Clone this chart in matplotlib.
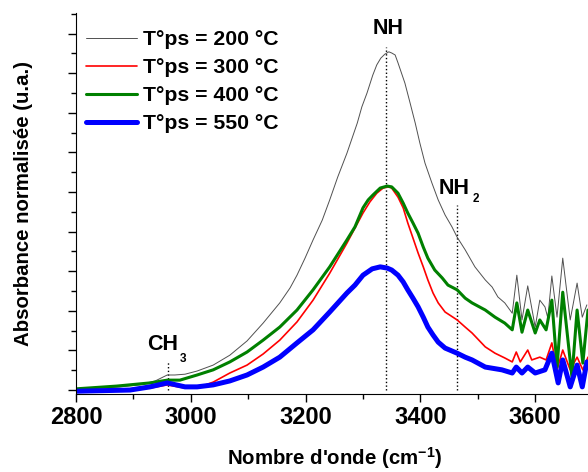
import matplotlib
matplotlib.use("Agg")
import matplotlib.pyplot as plt
from matplotlib.ticker import MultipleLocator

plt.rcParams['font.family'] = ['Liberation Sans', 'DejaVu Sans']
plt.rcParams['font.weight'] = 'bold'
plt.rcParams['mathtext.fontset'] = 'custom'
plt.rcParams['mathtext.bf'] = 'Liberation Sans:bold'
plt.rcParams['mathtext.rm'] = 'Liberation Sans:bold'

labels = ["T°ps = 200 °C", "T°ps = 300 °C", "T°ps = 400 °C", "T°ps = 550 °C"]
colors = ["#505050", "#ff0000", "#008000", "#0000ff"]
widths = [0.7, 1.2, 2.2, 3.6]

wn_200 = [2800, 2842, 2877, 2911, 2938, 2952, 2959, 2972, 2990, 3011,
          3039, 3068, 3098, 3126, 3155, 3173, 3185, 3199, 3213, 3229,
          3242, 3256, 3272, 3281, 3290, 3298, 3307, 3317, 3324, 3331,
          3338, 3345, 3350, 3356, 3361, 3373, 3382, 3391, 3399, 3408,
          3420, 3431, 3443, 3455, 3464, 3478, 3495, 3513, 3525, 3535,
          3547, 3560, 3568, 3577, 3587, 3600, 3608, 3617, 3622, 3629,
          3638, 3648, 3661, 3673, 3682, 3690]
ab_200 = [0.03, 0.05, 0.08, 0.13, 0.23, 0.33, 0.38, 0.38, 0.40, 0.48,
          0.63, 0.88, 1.24, 1.69, 2.20, 2.58, 2.90, 3.33, 3.79, 4.29,
          4.80, 5.38, 5.98, 6.36, 6.74, 7.15, 7.50, 7.95, 8.21, 8.38,
          8.48, 8.54, 8.51, 8.46, 8.26, 7.75, 7.25, 6.74, 6.24, 5.73,
          5.23, 4.80, 4.42, 4.12, 3.86, 3.54, 3.11, 2.78, 2.60, 2.35,
          2.20, 1.94, 2.90, 1.77, 2.63, 1.59, 2.27, 2.10, 1.82, 2.88,
          1.84, 3.33, 1.77, 2.70, 1.84, 2.15]

wn_300 = [2800, 2894, 2929, 2959, 2990, 3016, 3039, 3068, 3098, 3126,
          3155, 3185, 3213, 3242, 3272, 3286, 3300, 3312, 3324, 3335,
          3344, 3350, 3361, 3370, 3378, 3387, 3396, 3405, 3413, 3422,
          3431, 3443, 3464, 3478, 3490, 3513, 3530, 3547, 3560, 3567,
          3574, 3587, 3594, 3608, 3619, 3629, 3638, 3648, 3661, 3673,
          3683, 3692]
ab_300 = [0.00, 0.03, 0.05, 0.13, 0.05, 0.08, 0.20, 0.43, 0.63, 0.91,
          1.26, 1.72, 2.27, 2.95, 3.71, 4.09, 4.47, 4.75, 4.97, 5.10,
          5.13, 5.10, 4.87, 4.60, 4.22, 3.84, 3.46, 3.11, 2.78, 2.45,
          2.20, 1.97, 1.77, 1.59, 1.44, 1.09, 0.93, 0.81, 0.71, 0.96,
          0.71, 1.01, 0.76, 0.83, 0.76, 1.19, 0.51, 1.01, 0.51, 0.83,
          0.51, 0.83]

wn_400 = [2800, 2871, 2929, 2959, 2981, 3011, 3039, 3068, 3098, 3126,
          3155, 3185, 3213, 3242, 3272, 3286, 3300, 3309, 3317, 3330,
          3342, 3350, 3361, 3370, 3378, 3387, 3396, 3405, 3413, 3425,
          3438, 3448, 3464, 3478, 3490, 3513, 3530, 3547, 3560, 3568,
          3577, 3587, 3600, 3608, 3619, 3629, 3638, 3648, 3664, 3673,
          3683, 3692]
ab_400 = [0.03, 0.10, 0.18, 0.25, 0.25, 0.38, 0.51, 0.71, 0.96, 1.26,
          1.59, 2.02, 2.53, 3.11, 3.79, 4.12, 4.60, 4.80, 4.92, 5.10,
          5.15, 5.13, 4.97, 4.72, 4.47, 4.22, 3.96, 3.61, 3.33, 3.03,
          2.83, 2.65, 2.53, 2.32, 2.20, 2.02, 1.84, 1.69, 1.52, 2.20,
          1.46, 2.02, 1.44, 1.77, 1.52, 2.27, 0.58, 2.47, 0.33, 2.02,
          0.68, 2.02]

wn_550 = [2800, 2894, 2929, 2959, 2990, 3011, 3039, 3068, 3098, 3126,
          3155, 3185, 3213, 3242, 3272, 3286, 3300, 3316, 3330, 3342,
          3350, 3361, 3370, 3378, 3387, 3396, 3405, 3413, 3422, 3431,
          3443, 3464, 3478, 3490, 3513, 3542, 3560, 3567, 3577, 3587,
          3600, 3617, 3629, 3640, 3648, 3661, 3673, 3682, 3690]
ab_550 = [-0.03, 0.00, 0.08, 0.18, 0.08, 0.08, 0.13, 0.23, 0.38, 0.58,
          0.83, 1.19, 1.52, 1.97, 2.45, 2.65, 2.90, 3.06, 3.11, 3.08,
          3.03, 2.90, 2.73, 2.53, 2.32, 2.10, 1.84, 1.59, 1.39, 1.21,
          1.06, 0.93, 0.83, 0.76, 0.58, 0.51, 0.43, 0.58, 0.43, 0.58,
          0.43, 0.51, 0.93, 0.18, 0.76, 0.08, 0.63, 0.08, 0.71]

series = [(wn_200, ab_200), (wn_300, ab_300), (wn_400, ab_400), (wn_550, ab_550)]

# band markers: (label, subscript, wavenumber, top of dotted line)
bands = [("NH", "", 3340, 8.66), ("NH", "2", 3464, 4.67), ("CH", "3", 2960, 0.73)]
band_text = [(3344, 9.12), (3458, 5.10), (2951, 1.14)]
sub_text = [None, (3497, 4.82), (2987, 0.78)]

fig = plt.figure(figsize=(5.88, 4.72), dpi=100)
ax = fig.add_axes([76/588, 78/472, (3700-2800)*0.574/588, 381/472])

for (b, sub, x, top) in bands:
    ax.plot([x, x], [0, top], linestyle=':', color='black', lw=1.0, zorder=1)

for (wn, ab), lab, c, w in zip(series, labels, colors, widths):
    ax.plot(wn, ab, color=c, lw=w, label=lab, zorder=2,
            solid_joinstyle='round', solid_capstyle='round')

for (b, sub, x, top), (tx, ty), st in zip(bands, band_text, sub_text):
    ax.text(tx, ty, b, fontsize=15.5, fontweight='bold', ha='center', va='center')
    if st is not None:
        ax.text(st[0], st[1], sub, fontsize=8.5, fontweight='bold', ha='center', va='center')

ax.set_xlim(2800, 3700)
ax.set_ylim(-0.10, 9.52)
ax.xaxis.set_major_locator(MultipleLocator(200))
ax.xaxis.set_minor_locator(MultipleLocator(100))
ax.yaxis.set_major_locator(MultipleLocator(1))
ax.yaxis.set_minor_locator(MultipleLocator(0.5))
ax.set_yticklabels([])
ax.tick_params(axis='both', which='major', length=6, width=1, direction='out')
ax.tick_params(axis='both', which='minor', length=3.5, width=1, direction='out')
ax.tick_params(axis='x', labelsize=17, pad=3)
for lab in ax.get_xticklabels():
    lab.set_fontweight('bold')
ax.spines['top'].set_visible(False)
ax.spines['right'].set_visible(False)

ax.set_xlabel("Nombre d'onde (cm$^{\\mathbf{-1}}$)", fontsize=14.7, fontweight='bold', labelpad=11)
ax.set_ylabel("Absorbance normalisée (u.a.)", fontsize=14.7, fontweight='bold', labelpad=21.5)

leg = ax.legend(loc='upper left', bbox_to_anchor=(86/588, 1 - 30/472),
                bbox_transform=fig.transFigure, frameon=False, fontsize=15.3,
                handlelength=2.4, handletextpad=0.28, labelspacing=0.43,
                borderpad=0, borderaxespad=0)
for t in leg.get_texts():
    t.set_fontweight('bold')

fig.savefig("out.png", dpi=100)
